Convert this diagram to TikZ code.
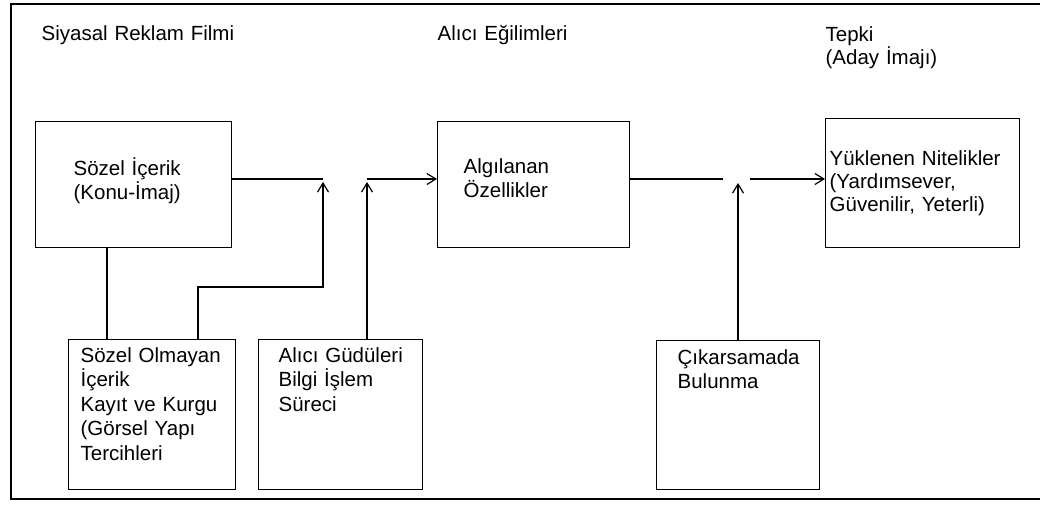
\documentclass[tikz,border=0pt]{standalone}
\usepackage{fontspec}
\setmainfont{Liberation Sans}
\usetikzlibrary{arrows.meta}

\begin{document}
\begin{tikzpicture}[x=1pt, y=-1pt,
  line width=1.3pt,
  box/.style={draw, rectangle, inner sep=0pt, anchor=north west},
  txt/.style={inner sep=0pt, anchor=base west, align=left, text width=220pt,
    font=\fontsize{20.5}{24.5}\selectfont},
  tighttxt/.style={txt, font=\fontsize{20.5}{23}\selectfont},
  arr/.style={-{Straight Barb[length=9pt, width=11pt, line width=1.2pt]}}]

\useasboundingbox (0,0) rectangle (1040,517);

% outer frame (open on the right, where the page ends)
\draw (1041,4) -- (11,4) -- (11,499) -- (1041,499);

% column headings
\node[txt] (h1) at (41,40) {Siyasal Reklam Filmi};
\node[txt] (h2) at (437,40) {Alıcı Eğilimleri};
\node[tighttxt] (h3) at (825,41) {Tepki\\(Aday İmajı)};

% boxes
\node[box, minimum width=196pt, minimum height=126pt] (sozel) at (35,121) {};
\node[box, minimum width=192pt, minimum height=126pt] (algi)  at (437,121) {};
\node[box, minimum width=194pt, minimum height=129pt] (yuk)   at (825,118) {};
\node[box, minimum width=167pt, minimum height=150pt] (sozol) at (68,339) {};
\node[box, minimum width=164pt, minimum height=150pt] (alici) at (258,339) {};
\node[box, minimum width=163pt, minimum height=149pt] (cikar) at (656,340) {};

% box texts
\node[txt] (sozel-t) at (73,175) {Sözel İçerik\\(Konu-İmaj)};
\node[txt] (algi-t)  at (463,173) {Algılanan\\Özellikler};
\node[tighttxt] (yuk-t) at (829,165) {Yüklenen Nitelikler\\(Yardımsever,\\Güvenilir, Yeterli)};
\node[txt] (sozol-t) at (80,362) {Sözel Olmayan\\İçerik\\Kayıt ve Kurgu\\(Görsel Yapı\\Tercihleri};
\node[txt] (alici-t) at (278,362) {Alıcı Güdüleri\\Bilgi İşlem\\Süreci};
\node[txt] (cikar-t) at (677,364) {Çıkarsamada\\Bulunma};

% junction points
\coordinate (j1) at (323,179);
\coordinate (t1) at (323,182);
\coordinate (b1) at (198,287);
\coordinate (v1) at (107,0);
\coordinate (j2) at (367,179);
\coordinate (t2) at (367,182);
\coordinate (g1) at (723,179);
\coordinate (g2) at (750,179);
\coordinate (t3) at (738,183);

% connectors
\draw (j1 -| sozel.east) -- (j1);
\draw (v1 |- sozel.south) -- (v1 |- sozol.north);
\draw[arr] (b1 |- sozol.north) -- (b1) -- (b1 -| t1) -- (t1);
\draw[arr] (t2 |- alici.north) -- (t2);
\draw[arr] (j2) -- (j2 -| algi.west);
\draw (g1 -| algi.east) -- (g1);
\draw[arr] (g2) -- (g2 -| yuk.west);
\draw[arr] (t3 |- cikar.north) -- (t3);
\end{tikzpicture}
\end{document}
